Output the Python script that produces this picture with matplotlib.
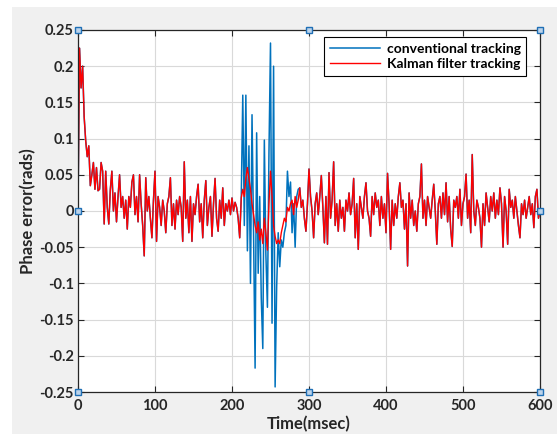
import matplotlib.pyplot as plt
from matplotlib.patches import Rectangle

# time axis, 2 ms steps
time_ms = list(range(0, 602, 2))

# Kalman filter tracking (red)
kalman = [
    0.000, 0.225, 0.170, 0.200, 0.130, 0.097, 0.075, 0.090, 0.035, 0.050,
    0.067, 0.030, 0.060, 0.028, 0.030, 0.067, 0.055, -0.018, 0.055, 0.005,
    -0.018, 0.030, 0.055, 0.000, 0.025, -0.015, 0.020, 0.050, 0.005, 0.020,
    -0.010, 0.015, -0.025, 0.020, 0.005, 0.040, 0.050, -0.005, 0.020, -0.015,
    0.050, 0.010, -0.020, -0.062, 0.046, 0.000, 0.020, -0.010, -0.037, 0.015,
    0.055, -0.042, 0.020, 0.005, -0.020, 0.015, 0.000, -0.030, 0.010, 0.020,
    0.046, -0.020, 0.010, -0.025, 0.015, -0.005, 0.020, 0.005, -0.042, 0.068,
    -0.010, 0.015, -0.030, 0.020, -0.042, 0.010, -0.005, 0.020, 0.037, -0.015,
    0.010, -0.037, 0.015, 0.042, -0.020, 0.005, 0.020, -0.035, 0.010, 0.045,
    -0.010, -0.028, 0.015, -0.010, 0.032, -0.020, 0.010, 0.000, 0.015, -0.005,
    0.018, 0.000, 0.012, 0.005, -0.010, -0.037, 0.018, 0.030, 0.020, 0.045,
    0.060, 0.045, 0.030, 0.010, -0.005, -0.020, -0.030, -0.015, -0.040, -0.025,
    -0.045, -0.010, -0.030, -0.054, 0.010, 0.055, 0.020, -0.020, -0.035, -0.045,
    -0.040, -0.045, -0.030, -0.020, -0.010, -0.015, 0.005, 0.000, 0.010, 0.015,
    -0.005, 0.020, 0.005, 0.015, 0.032, 0.005, 0.015, -0.010, -0.028, 0.010,
    0.058, 0.020, 0.000, -0.037, 0.010, 0.025, -0.005, 0.020, 0.049, 0.005,
    -0.044, 0.020, -0.046, 0.053, -0.010, 0.015, 0.068, -0.020, 0.010, -0.028,
    0.015, -0.010, 0.005, -0.028, 0.015, 0.000, 0.025, -0.005, 0.010, 0.045,
    -0.037, 0.010, -0.053, 0.020, 0.005, -0.010, 0.020, 0.039, 0.000, -0.010,
    -0.035, 0.020, -0.005, 0.025, 0.005, 0.015, -0.020, 0.020, -0.010, 0.010,
    -0.030, 0.052, 0.010, -0.053, 0.015, -0.020, 0.010, -0.010, 0.020, 0.039,
    0.005, 0.015, -0.025, 0.010, -0.076, 0.025, -0.010, 0.015, -0.020, 0.000,
    -0.028, 0.010, 0.020, 0.065, -0.010, 0.015, -0.020, 0.020, 0.005, -0.010,
    0.015, 0.037, 0.000, -0.046, 0.010, 0.020, -0.010, 0.025, -0.005, 0.039,
    -0.015, 0.020, -0.025, -0.049, 0.015, 0.005, 0.020, -0.010, 0.030, -0.020,
    0.010, 0.020, 0.051, -0.010, 0.015, -0.030, 0.078, 0.000, -0.020, 0.015,
    0.005, -0.010, -0.050, 0.010, -0.020, 0.025, 0.005, -0.015, 0.020, 0.000,
    0.025, -0.010, 0.015, -0.005, 0.032, 0.010, -0.050, 0.020, 0.000, -0.046,
    0.030, 0.005, 0.015, -0.010, 0.020, 0.000, -0.020, -0.037, 0.010, -0.005,
    0.015, -0.010, 0.005, 0.020, -0.005, 0.010, -0.023, 0.020, 0.030, -0.010,
    0.000,
]

# conventional tracking (blue): same as Kalman except around the disturbance
burst_start = 210
burst_vals = [
    -0.037, 0.018, 0.160, -0.020, 0.160, -0.055, 0.090, -0.100, 0.133, -0.030,
    -0.217, 0.108, -0.086, 0.020, -0.120, -0.190, 0.098, -0.060, -0.133, 0.080,
    0.232, -0.155, 0.200, -0.243, -0.105, -0.030, -0.077, -0.040, -0.050, -0.030,
    -0.020, 0.055, 0.020, 0.040, -0.030, 0.010, -0.050, 0.020, 0.030,
]
conventional = list(kalman)
i0 = time_ms.index(burst_start)
conventional[i0:i0 + len(burst_vals)] = burst_vals

fig = plt.figure(figsize=(5.57, 4.34), dpi=100, facecolor="#f0f0f0")
fig.patches.append(Rectangle((0, 0), 12 / 557, 1, transform=fig.transFigure,
                             facecolor="white", edgecolor="none", zorder=-1))
fig.patches.append(Rectangle((0, 1 - 7 / 434), 1, 7 / 434, transform=fig.transFigure,
                             facecolor="white", edgecolor="none", zorder=-1))

ax = fig.add_axes([78 / 557, 42 / 434, 462 / 557, 362 / 434])
ax.set_facecolor("white")

ax.plot(time_ms, conventional, color="#0072BD", lw=1.1, label="conventional tracking")
ax.plot(time_ms, kalman, color="#FF0000", lw=1.0, label="Kalman filter tracking")

ax.set_xlim(0, 600)
ax.set_ylim(-0.25, 0.25)
ax.set_xticks(range(0, 601, 100))
ax.set_yticks([-0.25, -0.2, -0.15, -0.1, -0.05, 0, 0.05, 0.1, 0.15, 0.2, 0.25])
ax.set_yticklabels(["-0.25", "-0.2", "-0.15", "-0.1", "-0.05", "0",
                    "0.05", "0.1", "0.15", "0.2", "0.25"])
ax.grid(True, color="#d9d9d9", lw=0.8)
ax.set_axisbelow(True)
ax.tick_params(direction="in", top=True, right=True, length=4, color="#262626",
               labelsize=10.5, labelcolor="#262626")
ax.tick_params(axis="x", pad=5)
ax.tick_params(axis="y", pad=3)
for lab in ax.get_xticklabels() + ax.get_yticklabels():
    lab.set_fontweight("bold")
    lab.set_family("Lato")
for sp in ax.spines.values():
    sp.set_color("#262626")
    sp.set_linewidth(0.9)

ax.set_xlabel("Time(msec)", fontsize=12, fontweight="bold", family="Lato",
              color="#262626", labelpad=2)
ax.set_ylabel("Phase error(rads)", fontsize=12, fontweight="bold", family="Lato",
              color="#262626", labelpad=2)

# selection handles at corners and edge midpoints
hx = [0, 300, 600, 0, 600, 0, 300, 600]
hy = [0.25, 0.25, 0.25, 0, 0, -0.25, -0.25, -0.25]
ax.plot(hx, hy, ls="none", marker="s", ms=5, mfc="#bcd3ea", mec="#1f6fb5",
        mew=1.0, clip_on=False, zorder=5)

leg = ax.legend(loc="upper right", bbox_to_anchor=(0.97, 0.98),
                prop={"weight": "bold", "family": "Lato", "size": 10},
                fancybox=False, edgecolor="black", framealpha=1,
                handlelength=3.6, borderpad=0.4, labelspacing=0.25,
                handletextpad=0.5, borderaxespad=0)
leg.get_frame().set_linewidth(0.8)

fig.savefig("out.png", dpi=100, facecolor=fig.get_facecolor())
